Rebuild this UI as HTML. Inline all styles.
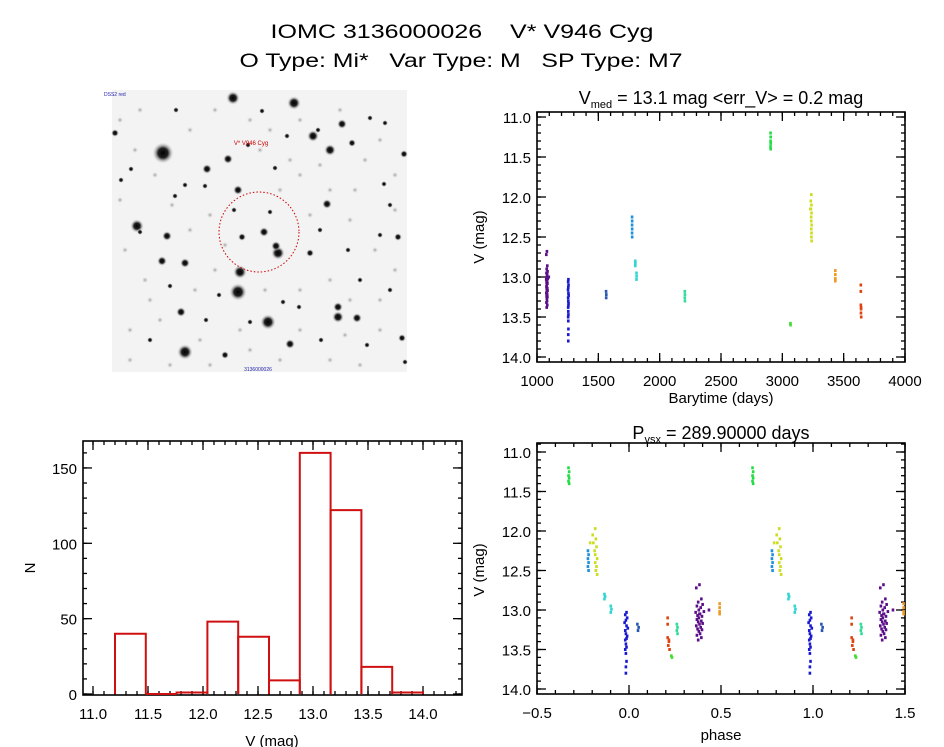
<!DOCTYPE html>
<html><head><meta charset="utf-8">
<style>
html,body{margin:0;padding:0;background:#fff;}
svg{display:block;font-family:"Liberation Sans",sans-serif;}
.pre{white-space:pre;}
</style></head>
<body>
<svg id="root" width="944" height="747" viewBox="0 0 944 747" xmlns="http://www.w3.org/2000/svg">
<text class="pre" xml:space="preserve" x="462" y="38" font-size="19" text-anchor="middle" textLength="383" lengthAdjust="spacingAndGlyphs">IOMC 3136000026    V* V946 Cyg</text>
<text class="pre" xml:space="preserve" x="461" y="67" font-size="19" text-anchor="middle" textLength="443" lengthAdjust="spacingAndGlyphs">O Type: Mi*   Var Type: M   SP Type: M7</text>
<g id="finder"></g>
<g id="lc"></g>
<g id="ph"></g>
<g id="hist"></g>
</svg>
<script>
// ---- light curve data ----
const clusterTimes = [
 [1081,1076,1084,1079,1086,1077,1083,1080,1088,1075,1082,1078,1085,1080,1077,1084,1079,1086,1081,1076,1083,1078,1085,1080,1082,1077,1084,1079,1081,1096],
 [1256,1254,1257,1255,1253,1256,1258,1254,1255,1257,1256,1254,1255,1256,1254,1255,1256,1255,1255],
 [1563,1565,1564],
 [1775,1776,1775,1776,1775,1776],
 [1801,1802,1801,1811,1812,1811],
 [2205,2206,2205,2206],
 [2904,2905,2904,2905,2904,2905],
 [3066,3067],
 [3236,3232,3237,3233,3238,3235,3236,3239,3236,3238,3237,3239,3228],
 [3432,3432,3432,3432],
 [3640,3640,3640,3642,3641,3643,3642]
];
const clusterMags = [
 [12.68,12.72,12.86,12.9,12.93,12.95,12.97,13.0,13.02,13.03,13.05,13.07,13.08,13.1,13.12,13.14,13.15,13.17,13.18,13.2,13.22,13.24,13.25,13.27,13.3,13.32,13.35,13.38,13.05,13.0],
 [13.03,13.06,13.1,13.13,13.16,13.2,13.23,13.26,13.3,13.33,13.36,13.38,13.43,13.47,13.5,13.55,13.65,13.72,13.8],
 [13.18,13.22,13.26],
 [12.25,12.3,12.35,12.4,12.45,12.5],
 [12.8,12.83,12.86,12.95,12.99,13.03],
 [13.18,13.22,13.26,13.3],
 [11.2,11.25,11.3,11.33,11.37,11.4],
 [13.58,13.6],
 [11.97,12.05,12.1,12.15,12.2,12.25,12.3,12.35,12.4,12.45,12.5,12.55,12.15],
 [12.92,12.97,13.02,13.05],
 [13.1,13.18,13.35,13.4,13.45,13.5,13.38]
];
const clusterColors = ["#5a0f88","#1a1ad0","#2858b0","#1f90dd","#30d6d0","#33dd99","#22dd44","#44dd33","#ccdd22","#ee9922","#dd4411"];
const period = 289.9;
const epoch = 970;
// ---- histogram data ----
const binEdges = [11.2,11.48,11.76,12.04,12.32,12.6,12.88,13.16,13.44,13.72,14.0];
const binCounts = [40,0,1,48,38,9,160,122,18,1];
const lcXTicks = [1000,1500,2000,2500,3000,3500,4000];
const magTicks = [11.0,11.5,12.0,12.5,13.0,13.5,14.0];
const phaseTicks = [-0.5,0.0,0.5,1.0,1.5];
const histXTicks = [11.0,11.5,12.0,12.5,13.0,13.5,14.0];
const histYTicks = [0,50,100,150];

const NS="http://www.w3.org/2000/svg";
function mk(tag,attrs,parent){const e=document.createElementNS(NS,tag);for(const k in attrs)e.setAttribute(k,attrs[k]);parent.appendChild(e);return e;}

function frame(g,x0,y0,x1,y1,name){
  const r=mk('rect',{x:x0,y:y0,width:x1-x0,height:y1-y0,fill:'none',stroke:'#000','stroke-width':1.6},g);
  
  
}
function tick(g,x1,y1,x2,y2){const l=mk('line',{x1:x1,y1:y1,x2:x2,y2:y2,stroke:'#000','stroke-width':1.3},g);
  
  }
function label(g,x,y,txt,anchor,name,size){const t=mk('text',{x:x,y:y,'font-size':size||15,'text-anchor':anchor||'middle'},g);t.textContent=txt;
  
  return t;}

function axes(g,box,xs,ys,xmaj,xmin,ymaj,ymin,xfmt,yfmt){
  const [x0,y0,x1,y1]=box;
  frame(g,x0,y0,x1,y1,'plot-frame');
  for(const v of xmin){const x=xs(v);if(x<x0-0.5||x>x1+0.5)continue;tick(g,x,y1,x,y1-4);tick(g,x,y0,x,y0+4);}
  for(const v of ymin){const y=ys(v);if(y<y0-0.5||y>y1+0.5)continue;tick(g,x0,y,x0+4,y);tick(g,x1,y,x1-4,y);}
  for(const v of xmaj){const x=xs(v);tick(g,x,y1,x,y1-9);tick(g,x,y0,x,y0+9);label(g,x,y1+24,xfmt(v),'middle','x-tick-label');}
  for(const v of ymaj){const y=ys(v);tick(g,x0,y,x0+9,y);tick(g,x1,y,x1-9,y);label(g,x0-6,y+6,yfmt(v),'end','y-tick-label');}
}
function range(a,b,s){const r=[];for(let v=a;v<=b+1e-9;v+=s)r.push(Math.round(v*1000)/1000);return r;}

// ---- light curve ----
const lc=document.getElementById('lc');
const xT=t=>537+(t-1000)/3000*368;
const yT=v=>117+(v-11)/3*240;
axes(lc,[537,112,905,362],xT,yT,lcXTicks,range(1000,4000,100),magTicks,range(10.9,14.1,0.1),v=>String(v),v=>v.toFixed(1));
{const t=label(lc,721,104,'','middle','light-curve-title',18);
 t.innerHTML='<tspan>V</tspan><tspan font-size="11" dy="4">med</tspan><tspan dy="-4"> = 13.1 mag &lt;err_V&gt; = 0.2 mag</tspan>';}
label(lc,721,403,'Barytime (days)','middle','x-axis-title',15);
{const t=label(lc,0,0,'V (mag)','middle','y-axis-title',15);t.setAttribute('transform','translate(484,237) rotate(-90)');}
clusterTimes.forEach((ts,c)=>{ts.forEach((t,i)=>{
  const p=mk('rect',{x:xT(t)-1.3,y:yT(clusterMags[c][i])-1.5,width:2.6,height:3,fill:clusterColors[c]},lc);
  
  
});});

// ---- phase ----
const ph=document.getElementById('ph');
const xP=p=>537+(p+0.5)/2*368;
const yP=v=>452+(v-11)/3*237;
axes(ph,[537,443,905,694],xP,yP,phaseTicks,range(-0.5,1.5,0.1),magTicks,range(10.9,14.1,0.1),v=>v.toFixed(1).replace('-','\u2212'),v=>v.toFixed(1));
{const t=label(ph,721,439,'','middle','phase-title',18);
 t.innerHTML='<tspan>P</tspan><tspan font-size="11" dy="4">vsx</tspan><tspan dy="-4"> = 289.90000 days</tspan>';}
label(ph,721,740,'phase','middle','x-axis-title',15);
{const t=label(ph,0,0,'V (mag)','middle','y-axis-title',15);t.setAttribute('transform','translate(484,570) rotate(-90)');}
clusterTimes.forEach((ts,c)=>{ts.forEach((t,i)=>{
  let f=((t-epoch)/period)%1; if(f<0)f+=1; if(f>0.6)f-=1;
  for(const q of [f,f+1]){
    const p=mk('rect',{x:xP(q)-1.3,y:yP(clusterMags[c][i])-1.5,width:2.6,height:3,fill:clusterColors[c]},ph);
    
    
  }
});});

// ---- histogram ----
const hg=document.getElementById('hist');
const xH=m=>93+(m-11)*110;
const yH=n=>694-n*1.507;
axes(hg,[83,441,462,695],xH,yH,histXTicks,range(10.9,14.3,0.1),histYTicks,range(0,160,10),v=>v.toFixed(1),v=>String(v));
label(hg,272,746,'V (mag)','middle','x-axis-title',15);
{const t=label(hg,0,0,'N','middle','y-axis-title',15);t.setAttribute('transform','translate(35,568) rotate(-90)');}
binCounts.forEach((n,i)=>{
  const x0=xH(binEdges[i]),x1=xH(binEdges[i+1]),y=yH(n);
  const b=mk('path',{d:`M${x0},${yH(0)} L${x0},${y} L${x1},${y} L${x1},${yH(0)}`,fill:'none',stroke:'#d01010','stroke-width':2},hg);
  
  
});

// ---- finder image ----
const fd=document.getElementById('finder');
const defs=mk('defs',{},fd);
const rg=mk('radialGradient',{id:'star'},defs);
mk('stop',{offset:'0','stop-color':'#000'},rg);
mk('stop',{offset:'0.45','stop-color':'#222'},rg);
mk('stop',{offset:'1','stop-color':'#f2f2f2','stop-opacity':'0'},rg);
const rg2=mk('radialGradient',{id:'faint'},defs);
mk('stop',{offset:'0','stop-color':'#999'},rg2);
mk('stop',{offset:'1','stop-color':'#f2f2f2','stop-opacity':'0'},rg2);
{const bg=mk('rect',{x:112,y:90,width:295,height:282,fill:'#f3f3f3'},fd);
 
 }
const faint=[[120,120],[140,110],[155,175],[172,205],[190,230],[210,215],[225,245],[150,300],[130,330],[160,320],[200,340],[240,330],[265,290],[300,290],[330,280],[350,300],[380,300],[395,270],[375,250],[350,220],[330,190],[300,175],[280,190],[260,150],[250,120],[300,120],[340,110],[365,160],[395,175],[380,140],[310,215],[215,270],[195,290],[145,280],[125,250],[120,200],[135,150],[190,130],[215,110],[270,130],[290,160],[320,165],[355,190],[395,210],[360,365],[330,360],[280,360],[250,350],[210,365],[170,365],[130,360],[300,330],[345,335],[380,330]];
faint.forEach(s=>{
  const c=mk('circle',{cx:s[0],cy:s[1],r:3.5,fill:'url(#faint)'},fd);
  
  
});
const stars=[[163,153,11],[238,292,9],[268,322,8],[185,352,8],[233,98,7],[294,103,7],[137,226,7],[313,136,6],[330,150,6],[342,124,5],[240,272,7],[278,253,7],[276,246,5],[327,204,5],[228,159,5],[238,190,5],[207,169,5],[264,232,5],[242,237,4],[167,236,5],[162,261,5],[185,263,5],[181,312,5],[338,317,6],[338,307,5],[357,318,5],[290,344,5],[310,253,4],[398,237,4],[115,133,4],[225,355,4],[402,338,4],[352,143,4],[385,123,3],[404,154,4],[185,185,3],[205,186,3],[131,169,3],[275,168,3],[287,136,3],[380,235,3],[270,212,3],[248,145,3],[318,130,3],[370,118,3],[121,180,3],[175,196,3],[234,210,3],[390,205,3],[384,184,3],[250,322,3],[299,307,3],[321,340,3],[367,345,3],[405,362,3],[150,340,3],[170,286,3],[360,280,3],[390,290,3],[206,320,3],[219,295,3],[283,302,3],[176,110,3],[262,111,3],[140,232,3],[320,230,3],[348,250,3]];
stars.forEach(s=>{
  const c=mk('circle',{cx:s[0],cy:s[1],r:s[2],fill:'url(#star)'},fd);
  
  
});
{const c=mk('circle',{cx:259,cy:232,r:40,fill:'none',stroke:'#c00','stroke-width':1,'stroke-dasharray':'1.5,2'},fd);
 
 }
{const t=label(fd,251,145,'V* V946 Cyg','middle','target-label',6);t.setAttribute('fill','#c00');}
{const t=label(fd,104,96,'DSS2 red','start','survey-label',5);t.setAttribute('fill','#22a');}
{const t=label(fd,258,371,'3136000026','middle','id-label',5);t.setAttribute('fill','#22a');}
</script>
</body></html>
